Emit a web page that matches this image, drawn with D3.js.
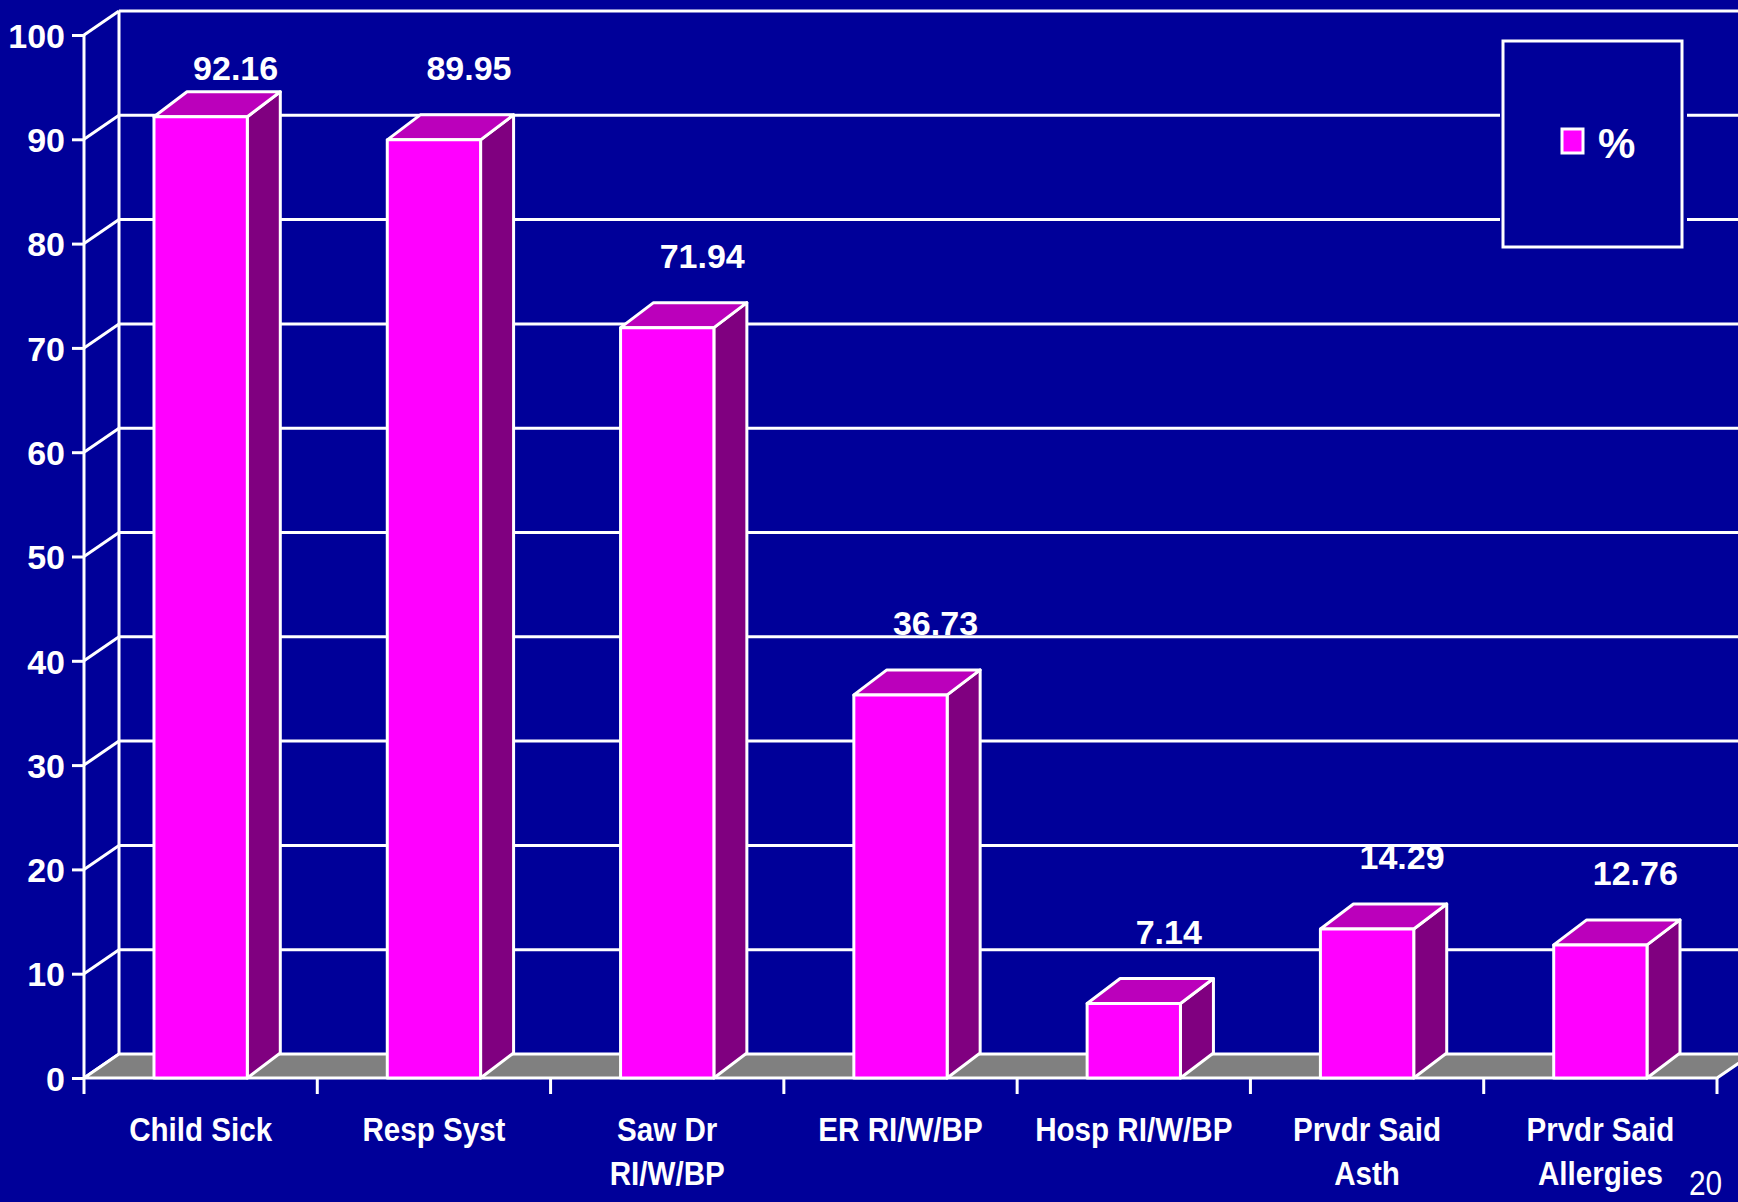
<!DOCTYPE html>
<html>
<head>
<meta charset="utf-8">
<script src="https://cdn.jsdelivr.net/npm/d3@7"></script>
<style>
  html, body { margin: 0; padding: 0; background: #000099; }
  svg { display: block; }
  text { font-family: "Liberation Sans", Arial, sans-serif; fill: #fff; }
</style>
</head>
<body>
<svg id="chart"></svg>
<script>
'use strict';

// chart data
var categories = ['Child Sick', 'Resp Syst', 'Saw Dr\nRI/W/BP', 'ER RI/W/BP',
                  'Hosp RI/W/BP', 'Prvdr Said\nAsth', 'Prvdr Said\nAllergies'];
var percentValues = [92.16, 89.95, 71.94, 36.73, 7.14, 14.29, 12.76];
var yTicks = [0, 10, 20, 30, 40, 50, 60, 70, 80, 90, 100];
var seriesName = '%';
var pageNumber = '20';

var width = 1738;
var height = 1202;

// front plane of the 3d box, and the shift to its back wall
var front = { left: 84, right: 1717, top: 35, bottom: 1078 };
var depth = { x: 35, y: -24 };
var barDepth = { x: 33, y: -25 };

var colors = {
  bg: '#000099',
  line: '#ffffff',
  floor: '#808080',
  barFront: '#ff00ff',
  barTop: '#bb00bb',
  barSide: '#800080'
};

var svg = d3.select('#chart')
            .attr('width', width)
            .attr('height', height);

svg.append('rect')
   .attr('width', width)
   .attr('height', height)
   .attr('fill', colors.bg);

var x = d3.scaleBand()
          .domain(categories)
          .range([front.left, front.right]);

var y = d3.scaleLinear()
          .domain([0, 100])
          .range([front.bottom, front.top]);

var barWidth = x.bandwidth() * 0.4;

// back wall gridlines and the diagonals on the side wall
var grid = svg.append('g')
              .attr('stroke', colors.line)
              .attr('stroke-width', 3)
              .attr('fill', 'none');

grid.selectAll('line.back')
    .data(yTicks.filter(function(d) { return d > 0; }))
    .enter()
    .append('line')
    .attr('x1', front.left + depth.x)
    .attr('x2', width + 40)
    .attr('y1', function(d) { return y(d) + depth.y; })
    .attr('y2', function(d) { return y(d) + depth.y; });

grid.selectAll('line.side')
    .data(yTicks)
    .enter()
    .append('line')
    .attr('x1', front.left)
    .attr('x2', front.left + depth.x)
    .attr('y1', function(d) { return y(d); })
    .attr('y2', function(d) { return y(d) + depth.y; });

grid.append('line')
    .attr('x1', front.left + depth.x)
    .attr('x2', front.left + depth.x)
    .attr('y1', y(100) + depth.y)
    .attr('y2', y(0) + depth.y);

// floor
svg.append('path')
   .attr('d', d3.line()([
     [front.left, y(0)],
     [front.right, y(0)],
     [front.right + depth.x, y(0) + depth.y],
     [front.left + depth.x, y(0) + depth.y]
   ]) + 'Z')
   .attr('fill', colors.floor)
   .attr('stroke', colors.line)
   .attr('stroke-width', 3)
   .attr('stroke-linejoin', 'round');

// front value axis
var yAxis = svg.append('g')
               .attr('transform', 'translate(' + front.left + ',0)')
               .call(d3.axisLeft(y).tickValues(yTicks).tickSize(12).tickPadding(7));
yAxis.select('.domain').remove();
yAxis.selectAll('.tick line')
     .attr('stroke', colors.line)
     .attr('stroke-width', 3);
yAxis.selectAll('.tick text')
     .attr('fill', colors.line)
     .attr('font-size', '34px')
     .attr('font-weight', 'bold')
     .attr('font-family', '"Liberation Sans", Arial, sans-serif')
     .attr('dy', '0.36em');

svg.append('line')
   .attr('x1', front.left)
   .attr('x2', front.left)
   .attr('y1', y(100))
   .attr('y2', y(0) + 16)
   .attr('stroke', colors.line)
   .attr('stroke-width', 3);

// category ticks on the front edge
var catEdges = categories.map(function(c) { return x(c); }).concat([front.right]);
svg.selectAll('line.cattick')
   .data(catEdges.slice(1))
   .enter()
   .append('line')
   .attr('x1', function(d) { return d; })
   .attr('x2', function(d) { return d; })
   .attr('y1', y(0))
   .attr('y2', y(0) + 16)
   .attr('stroke', colors.line)
   .attr('stroke-width', 3);

// bars
var bars = svg.selectAll('g.bar')
              .data(percentValues)
              .enter()
              .append('g')
              .attr('class', 'bar')
              .attr('stroke', colors.line)
              .attr('stroke-width', 3)
              .attr('stroke-linejoin', 'round');

function barLeft(i) {
  return x(categories[i]) + (x.bandwidth() - barWidth) / 2;
}

bars.append('path')
    .attr('fill', colors.barSide)
    .attr('d', function(d, i) {
      var r = barLeft(i) + barWidth;
      return d3.line()([
        [r, y(d)], [r + barDepth.x, y(d) + barDepth.y],
        [r + barDepth.x, y(0) + barDepth.y], [r, y(0)]
      ]) + 'Z';
    });

bars.append('path')
    .attr('fill', colors.barTop)
    .attr('d', function(d, i) {
      var l = barLeft(i);
      return d3.line()([
        [l, y(d)], [l + barDepth.x, y(d) + barDepth.y],
        [l + barWidth + barDepth.x, y(d) + barDepth.y], [l + barWidth, y(d)]
      ]) + 'Z';
    });

bars.append('rect')
    .attr('fill', colors.barFront)
    .attr('x', function(d, i) { return barLeft(i); })
    .attr('y', function(d) { return y(d); })
    .attr('width', barWidth)
    .attr('height', function(d) { return y(0) - y(d); });

// value labels
var fmt = d3.format('.2f');
svg.selectAll('text.value')
   .data(percentValues)
   .enter()
   .append('text')
   .attr('class', 'value')
   .attr('x', function(d, i) { return x(categories[i]) + x.bandwidth() / 2 + 35; })
   .attr('y', function(d) { return Math.max(80, y(d) - 60); })
   .attr('text-anchor', 'middle')
   .attr('font-size', '34px')
   .attr('font-weight', 'bold')
   .text(function(d) { return fmt(d); });

// category labels, slightly condensed
var catLabels = svg.selectAll('text.cat')
   .data(categories)
   .enter()
   .append('text')
   .attr('class', 'cat')
   .attr('transform', function(d) {
     return 'translate(' + (x(d) + x.bandwidth() / 2) + ',1141) scale(0.87,1)';
   })
   .attr('text-anchor', 'middle')
   .attr('font-size', '34px')
   .attr('font-weight', 'bold');

catLabels.selectAll('tspan')
   .data(function(d) { return d.split('\n'); })
   .enter()
   .append('tspan')
   .attr('x', 0)
   .attr('y', function(d, i) { return i * 44; })
   .text(function(d) { return d; });

// legend
var legend = svg.append('g');
legend.append('rect')
      .attr('x', 1500)
      .attr('y', 38)
      .attr('width', 187)
      .attr('height', 212)
      .attr('fill', colors.bg);
legend.append('rect')
      .attr('x', 1503)
      .attr('y', 41)
      .attr('width', 179)
      .attr('height', 206)
      .attr('fill', colors.bg)
      .attr('stroke', colors.line)
      .attr('stroke-width', 3);
legend.append('rect')
      .attr('x', 1562)
      .attr('y', 129)
      .attr('width', 21)
      .attr('height', 24)
      .attr('fill', colors.barFront)
      .attr('stroke', colors.line)
      .attr('stroke-width', 3);
legend.append('text')
      .attr('x', 1598)
      .attr('y', 158)
      .attr('font-size', '42px')
      .attr('font-weight', 'bold')
      .text(seriesName);

// slide number
svg.append('text')
   .attr('transform', 'translate(1722,1195) scale(0.85,1)')
   .attr('text-anchor', 'end')
   .attr('font-size', '35px')
   .text(pageNumber);
</script>
</body>
</html>
